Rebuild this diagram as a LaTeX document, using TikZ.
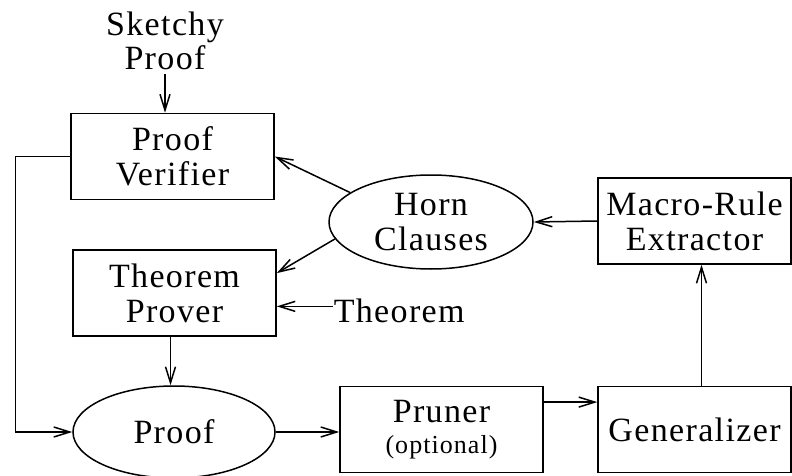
\documentclass[tikz,border=0pt]{standalone}
\usepackage{fontspec}
\setmainfont{Liberation Serif}[LetterSpace=4]
\usetikzlibrary{shapes.geometric,arrows.meta}

\begin{document}
\begin{tikzpicture}[x=0.5pt,y=-0.5pt,
  font=\fontsize{17}{17.5}\selectfont,
  line width=0.75pt,
  >={Straight Barb[length=8pt,width=5pt]},
  box/.style={draw, rectangle, minimum width=101.5pt, minimum height=43pt,
              inner sep=0pt, align=center},
  oval/.style={draw, ellipse, minimum width=101pt, minimum height=46pt,
               inner sep=0pt, align=center},
  lbl/.style={inner sep=0pt, align=center}]
\useasboundingbox[fill=white] (0,0) rectangle (792,476);

% nodes
\node[lbl, inner sep=2pt, font=\fontsize{17}{15}\selectfont] (sk) at (165,41) {Sketchy\\Proof};
\node[box] (pv) at (172.5,156.5) {Proof\\Verifier};
\node[box] (tp) at (174.5,293) {Theorem\\Prover};
\node[oval, minimum width=102pt, minimum height=47pt] (horn) at (431,222) {Horn\\Clauses};
\node[box, minimum width=96.5pt] (mre) at (694.5,221) {Macro-Rule\\Extractor};
\node[oval] (proof) at (174,432) {Proof};
\node[box] (pruner) at (441.5,429.5) {Pruner\\[-2pt]{\fontsize{13}{14}\selectfont(optional)}};
\node[box, minimum width=96.5pt] (gen) at (694.5,429.5) {Generalizer};
\node[lbl, anchor=base west] (thm) at (333,322) {Theorem};

% connectors
\draw[->] (sk.south) -- (sk.south |- pv.north);
\draw[->] (horn.160) -- (pv.east);
\draw[->] (horn.190) -- (tp.11);
\draw[->] (mre.west) -- (horn.east);
\draw[->] ([xshift=3.5pt]gen.north) -- ([xshift=3.5pt]mre.south);
\draw[->] (pruner.15) -- (pruner.15 -| gen.west);
\draw[->] (proof.east) -- (proof.east -| pruner.west);
\draw[->] ([xshift=-2pt]tp.south) -- ([xshift=-2pt]tp.south |- proof.north);
\draw[->] ([yshift=2pt]thm.west) -- ([yshift=2pt]thm.west -| tp.east);
\draw[->] (pv.west) -- ++(-55,0) |- (proof.west);
\end{tikzpicture}
\end{document}
